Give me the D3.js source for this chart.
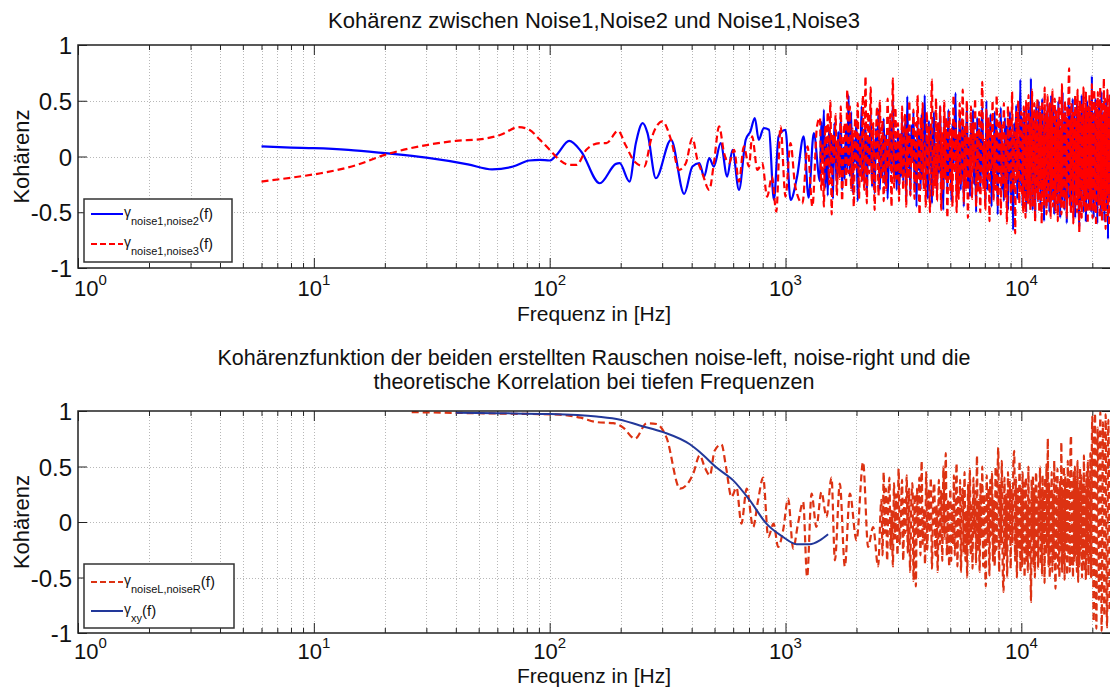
<!DOCTYPE html>
<html><head><meta charset="utf-8">
<script src="https://cdn.jsdelivr.net/npm/d3@7"></script>
<style>
body{margin:0;background:#fff}
svg{display:block}
text{font-family:"Liberation Sans",Arial,Helvetica,sans-serif;fill:#111}
</style>
</head><body>
<svg id="c" width="1110" height="687"></svg>
<script>
// ---------------- DATA ----------------
const xTickExponents = [0, 1, 2, 3, 4];
const yTicks = [-1, -0.5, 0, 0.5, 1];
const title1 = ["Kohärenz zwischen Noise1,Noise2 und Noise1,Noise3"];
const title2 = ["Kohärenzfunktion der beiden erstellten Rauschen noise-left, noise-right und die",
                "theoretische Korrelation bei tiefen Frequenzen"];
const xLabel = "Frequenz in [Hz]";
const yLabel = "Kohärenz";

// top: gamma noise1,noise2 (blue) - low frequency part
const n12LowF = [6,8,10,14,20,30,45,57,70,82,91,100,107,121,136,163,191,198,218,232,248,260,282,327,372,403,431,452,475,497,531,566,596,635,678,710,741,770,809,851,893,935,1000,1050,1120,1194,1253,1318];
const n12LowV = [0.09,0.08,0.075,0.06,0.03,-0.01,-0.07,-0.115,-0.09,-0.036,-0.03,-0.036,0.015,0.14,0.045,-0.24,-0.066,-0.06,-0.225,0.12,0.3,0.21,-0.195,0.15,-0.335,-0.09,-0.06,-0.18,-0.015,-0.09,0.12,-0.18,0.06,-0.3,0.15,0.225,0.345,0.15,0.255,0.24,-0.39,0.18,0.24,-0.39,-0.18,0.18,-0.37,0.21];
// dense parts (values over the bands listed in topBands)
const n12DenseA = [-0.22,0.31,-0.05,0.42,-0.28,0.12,-0.35,0.26,-0.1,0.18,-0.38,0.3,0.02,-0.25,0.22,-0.15,0.36,-0.3,0.08,-0.2,0.28,-0.12,0.55,-0.18,0.4,-0.32,0.15,-0.05,0.33,-0.4,0.2,-0.1,0.45,-0.22,0.05,0.3,-0.35,0.18,-0.08,0.38,-0.27,0.1,-0.33,0.25,-0.02,0.42,-0.3,0.12,-0.18,0.34,-0.25,0.2,-0.38,0.08,0.28,-0.15,0.5,-0.2,0.14,-0.3];
const n12DenseB = [0.25,-0.3,0.1,-0.18,0.35,-0.22,0.05,0.3,-0.4,0.54,-0.1,0.2,-0.35,0.28,-0.05,0.4,-0.25,0.15,-0.45,0.3,-0.12,0.22,-0.3,0.38,-0.2,0.1,0.55,-0.28,0.18,-0.38,0.32,-0.08,0.25,-0.42,0.12,0.4,-0.2,0.05,-0.33,0.3,-0.15,0.45,-0.25,0.1,-0.48,0.35,-0.05,0.22,-0.3,0.42,-0.18,0.08,-0.4,0.3,-0.1,0.25,0.57,-0.35,0.15,-0.22,0.4,-0.3,0.05,0.33,-0.45,0.2,-0.12,0.48,-0.28,0.1,-0.36,0.3,-0.05,0.42,-0.25,0.18,-0.5,0.35,-0.15,0.25,-0.32,0.12,0.45,-0.2,0.05,-0.42,0.5,-0.3,0.22,-0.1,0.38,-0.45,0.15,-0.25,0.4,-0.08,0.3,-0.52,0.2,-0.15,0.44,-0.3,0.1,-0.4,0.35,-0.2,0.28,-0.48,0.12,0.4,-0.35,0.2,-0.66,0.3,-0.12,0.46,-0.38,0.15,-0.25,0.69];
const n12DenseC = [-0.3,0.35,-0.45,0.2,-0.1,0.42,-0.38,0.15,-0.5,0.3,0.05,-0.35,0.45,-0.2,0.28,-0.42,0.7,-0.25,0.1,-0.48,0.38,-0.15,0.3,-0.55,0.22,0.45,-0.32,0.12,-0.4,0.5,-0.2,0.35,-0.46,0.18,-0.1,0.52,-0.35,0.25,-0.58,0.4,-0.05,0.32,-0.44,0.2,0.48,-0.3,0.1,-0.5,0.38,-0.22,0.55,-0.4,0.15,-0.28,0.45,-0.52,0.3,-0.12,0.42,-0.36,0.2,-0.45,0.5,-0.18,0.34,-0.55,0.25,0.05,-0.4,0.58,-0.3,0.2,-0.48,0.4,-0.1,0.35,-0.6,0.28,-0.22,0.5,-0.38,0.15,0.45,-0.5,0.22,-0.3,0.52,-0.42,0.1,0.4,-0.55,0.3,-0.2,0.48,-0.35,0.18,-0.45,-0.63,0.38,0.05,-0.4,0.55,-0.25,0.3,-0.5,0.42,-0.15,0.35,-0.58,0.2,0.5,-0.32,0.25,-0.46,0.45,-0.2,0.38,-0.5,0.72,-0.3,0.15,-0.55,0.4,-0.1,0.52,-0.42,0.28,-0.6,0.35,-0.25,0.48,-0.38,0.2,-0.52,0.58,-0.3,0.12,-0.45,0.4,-0.58,0.3,-0.2,0.5,-0.48,0.25,-0.74,0.42,-0.35,0.55,-0.4];

// top: gamma noise1,noise3 (red dashed)
const n13LowF = [6,8,10.7,15,20,30.5,40,51.5,62,74,82,91,100,110,121.5,130,143,163,174,195,210,230,252,269,301,327,354,378,403,423,444,475,497,523,549,576,605,635,666,700,722,760,797,836,876,914,953,1000,1050,1100,1180,1240,1300,1360];
const n13LowV = [-0.225,-0.19,-0.15,-0.08,0.015,0.105,0.14,0.156,0.195,0.264,0.24,0.15,0.06,-0.03,-0.075,-0.075,0.06,0.12,0.12,0.23,0.1,-0.05,-0.09,0.15,0.315,0.15,-0.12,-0.06,0.165,-0.03,-0.15,-0.3,-0.06,0.27,0.03,-0.06,0.06,-0.225,0.09,-0.09,0.18,-0.12,-0.06,-0.36,-0.18,-0.495,0.27,-0.36,0.12,-0.27,-0.42,0.09,-0.45,0.27];
const n13DenseA = [0.35,-0.3,0.12,-0.45,0.28,-0.1,0.4,-0.25,0.5,-0.52,0.2,-0.05,0.38,-0.35,0.15,-0.2,0.45,-0.4,0.1,0.3,-0.28,0.6,-0.15,0.45,-0.3,0.25,-0.45,0.35,-0.1,0.48,-0.38,0.2,-0.22,0.55,-0.3,0.72,-0.42,0.4,-0.15,0.62,-0.25,0.3,-0.48,0.15,0.45,-0.35,0.5,-0.2,0.32,-0.4,0.18,-0.3,0.52,-0.1,0.38,-0.45,0.7,-0.28,0.44,-0.2];
const n13DenseB = [0.3,-0.4,0.2,-0.15,0.45,-0.3,0.1,0.38,-0.45,0.25,-0.2,0.5,-0.35,0.15,-0.05,0.42,-0.38,0.3,-0.25,0.55,-0.1,-0.52,0.35,-0.2,0.48,-0.3,0.12,-0.45,0.4,-0.15,0.28,-0.5,0.2,0.69,-0.35,0.1,-0.28,0.52,-0.4,0.3,-0.12,0.45,-0.48,0.22,-0.3,0.5,-0.2,0.35,-0.55,0.15,0.4,-0.32,0.25,-0.45,0.55,-0.15,0.3,-0.5,0.2,-0.38,0.48,-0.25,0.1,0.6,-0.42,0.28,-0.3,0.5,-0.55,0.18,-0.2,0.45,-0.38,0.3,-0.1,0.52,-0.45,0.22,-0.32,0.4,-0.5,0.25,0.67,-0.3,0.15,-0.48,0.42,-0.2,0.35,-0.58,0.3,-0.12,0.5,-0.4,0.2,-0.3,0.55,-0.45,0.12,0.38,-0.52,0.28,-0.25,0.48,-0.38,0.2,-0.6,0.45,-0.15,0.35,-0.48,0.58,-0.3,0.22,-0.69,0.4,-0.2,0.5,-0.42,0.3];
const n13DenseC = [0.4,-0.35,0.2,-0.5,0.45,-0.15,0.3,-0.55,0.5,-0.25,0.15,-0.42,0.55,-0.3,0.35,-0.48,0.25,-0.1,0.6,-0.45,0.3,-0.2,0.48,-0.58,0.4,-0.32,0.15,0.52,-0.4,0.28,-0.5,0.45,-0.22,0.35,-0.6,0.5,-0.35,0.2,-0.45,0.62,-0.3,0.4,-0.52,0.25,0.55,-0.42,0.3,-0.15,0.48,-0.55,0.38,-0.28,0.6,-0.45,0.2,-0.35,0.52,-0.5,0.42,-0.2,0.3,-0.58,0.45,-0.3,0.55,-0.42,0.25,-0.52,0.65,-0.35,0.4,-0.48,0.2,0.5,-0.4,0.35,-0.55,0.45,-0.25,0.6,0.79,-0.45,0.3,-0.52,0.48,-0.3,0.4,-0.6,0.35,-0.2,0.55,-0.45,0.28,-0.5,0.6,-0.38,0.42,-0.68,0.5,-0.3,0.35,-0.55,0.48,-0.25,0.62,-0.45,0.3,-0.5,0.58,-0.35,0.4,-0.6,0.45,-0.3,0.55,-0.48,0.35,-0.42,0.65,-0.55,0.3,-0.38,0.6,-0.5,0.42,-0.62,0.5,-0.3,0.58,-0.45,0.35,-0.55,0.62,-0.4,0.48,-0.58,0.3,-0.5,0.7,-0.45,0.52,-0.65,0.4,-0.35,0.6,-0.55,0.45,-0.62,0.55,-0.4];

// bottom: gamma noiseL,noiseR (red dashed)
const lrLowF = [26,35,50,70,90,110,135,158,186,205,230,258,284,313,357,406,433,455,478,500,535,560,590,620,650,685,729,765,804,845,890,931,977,1026,1078,1130,1188,1235,1290,1352,1420,1492,1567,1620,1700,1785,1875,2000,2133,2240,2353,2470];
const lrLowV = [0.99,0.985,0.98,0.975,0.972,0.967,0.94,0.9,0.89,0.85,0.75,0.89,0.883,0.76,0.3,0.434,0.6,0.49,0.42,0.64,0.7,0.49,0.225,0.31,-0.015,0.3,-0.045,0.195,0.4,-0.135,-0.015,-0.225,-0.075,0.21,-0.24,-0.015,0.18,-0.495,0.255,-0.045,0.27,0.045,0.4,-0.345,0.345,-0.4,0.255,-0.165,0.54,-0.225,-0.045,-0.4];
const lrDenseA = [0.2,-0.3,0.45,-0.1,0.3,-0.35,0.15,0.4,-0.25,0.1,-0.4,0.35,-0.15,0.25,-0.3,0.48,-0.2,0.05,0.38,-0.35,0.2,-0.1,0.42,-0.28,0.3,-0.45,0.15,0.35,-0.53,0.25,-0.58,0.3,-0.15,0.4,-0.3,0.55,-0.2,0.12,-0.38,0.45,-0.25,0.3,-0.1,0.4,-0.42,0.2,0.35,-0.3,0.15,-0.45,0.38,-0.2,0.28,-0.35,0.5,-0.15,0.62,-0.3,0.2,-0.4];
const lrDenseB = [0.3,-0.35,0.15,-0.2,0.42,-0.3,0.1,0.53,-0.4,0.25,-0.15,0.38,-0.45,0.2,0.3,-0.28,0.45,-0.35,0.1,-0.5,0.35,-0.2,0.48,-0.3,0.15,-0.42,0.4,-0.1,0.28,-0.38,0.6,-0.25,0.2,-0.45,0.35,-0.15,0.5,-0.4,0.25,-0.3,-0.58,0.42,-0.2,0.3,-0.48,0.38,-0.12,0.45,-0.35,0.2,-0.4,0.5,-0.25,0.3,0.67,-0.45,0.35,-0.2,0.55,-0.4,-0.63,0.4,-0.3,0.25,-0.5,0.45,-0.15,0.38,-0.42,0.3,-0.2,0.52,0.64,-0.35,0.4,-0.5,0.3,-0.25,0.55,-0.45];
const lrDenseC = [0.3,-0.4,0.45,-0.2,0.35,-0.5,0.25,0.4,-0.35,0.15,-0.45,0.5,-0.3,0.2,-0.25,-0.72,0.38,-0.15,0.42,-0.4,0.3,-0.5,0.25,0.45,-0.3,0.2,-0.42,0.35,-0.1,0.5,-0.38,0.3,-0.48,0.42,-0.2,0.28,-0.55,0.4,-0.3,0.52,-0.25,0.75,-0.4,0.35,-0.5,0.3,-0.2,0.45,-0.45,0.25,-0.35,0.55,-0.3,-0.6,0.4,-0.25,0.48,-0.42,0.3,-0.5,0.38,-0.2,0.72,-0.45,0.3,-0.38,0.5,-0.52,0.42,-0.25,0.35,-0.48,0.55,-0.3,0.4,-0.45,0.6,0.78,-0.4,0.3,-0.5,0.45,-0.35,0.5,-0.3,0.38,-0.45,0.55,-0.54,0.3,-0.4,0.48,-0.25,0.42,-0.5,0.35,-0.38,0.6,-0.45,0.3,-0.52,0.45,-0.3,0.55,-0.48,0.4,-0.35,0.62,-0.5,0.5];
const lrDenseD = [0.95,-0.9,0.98,-0.96,0.85,-0.7,0.99,-0.98,0.9,-0.85,0.97,-0.95,0.92,-0.8];

// bottom: theoretical gamma_xy (blue)
const xyF = [40,60,100,158,199,241,303,393,433,510,600,706,830,977,1114,1268,1397,1516];
const xyV = [0.985,0.98,0.973,0.95,0.922,0.87,0.81,0.70,0.63,0.49,0.375,0.195,-0.015,-0.135,-0.2,-0.2,-0.165,-0.11];

// frequency bands (Hz) of the dense sampled parts
const topBands = [[1400,3000],[3000,10000],[10000,24000]];
const lrBands = [[2550,5000],[5000,10000],[10000,20000],[20000,24000]];

// ---------------- DRAWING ----------------
const svg = d3.select("#c");
const x = d3.scaleLog().domain([1, 24000]).range([78, 1111]);
const fontF = '"Liberation Sans",Arial,Helvetica,sans-serif';

function build(lowF, lowV, bands, dense) {
  const pts = lowF.map((f, i) => [f, lowV[i]]);
  bands.forEach((b, k) => {
    const vals = dense[k], n = vals.length;
    vals.forEach((v, i) => pts.push([b[0] * Math.pow(b[1] / b[0], i / n), v]));
  });
  return pts;
}

const minorTicks = [];
for (let e = 0; e <= 4; e++) for (let m = 2; m <= 9; m++) { const f = m * Math.pow(10, e); if (f < 24000) minorTicks.push(f); }
const majorTicks = xTickExponents.map(e => Math.pow(10, e));

function panel(cfg) {
  const { top, bottom, titles, titleY, titleSize, series, legendBox, legendItems, tickY, labelY, id } = cfg;
  const y = d3.scaleLinear().domain([-1, 1]).range([bottom, top]);
  const g = svg.append("g");
  const L = 78, R = 1111;

  // grid
  const grid = g.append("g").attr("stroke", "#b8b8b8").attr("stroke-width", 1).attr("stroke-dasharray", "1,2");
  majorTicks.concat(minorTicks).forEach(f => {
    if (f <= 1) return;
    grid.append("line").attr("x1", Math.round(x(f)) + 0.5).attr("x2", Math.round(x(f)) + 0.5).attr("y1", top).attr("y2", bottom);
  });
  [-0.5, 0, 0.5].forEach(v => grid.append("line").attr("x1", L).attr("x2", R).attr("y1", Math.round(y(v)) + 0.5).attr("y2", Math.round(y(v)) + 0.5));

  // axes ticks (inward)
  const axStyle = sel => { sel.select(".domain").remove(); sel.selectAll(".tick line").attr("stroke", "#222"); };
  g.append("g").attr("transform", `translate(0,${bottom})`).call(d3.axisBottom(x).tickValues(majorTicks).tickSize(-10).tickFormat(() => "")).call(axStyle);
  g.append("g").attr("transform", `translate(0,${bottom})`).call(d3.axisBottom(x).tickValues(minorTicks).tickSize(-5).tickFormat(() => "")).call(axStyle);
  g.append("g").attr("transform", `translate(0,${top})`).call(d3.axisTop(x).tickValues(majorTicks).tickSize(-10).tickFormat(() => "")).call(axStyle);
  g.append("g").attr("transform", `translate(0,${top})`).call(d3.axisTop(x).tickValues(minorTicks).tickSize(-5).tickFormat(() => "")).call(axStyle);
  const yl = g.append("g").attr("transform", `translate(${L},0)`)
    .call(d3.axisLeft(y).tickValues(yTicks).tickSize(-9).tickPadding(6).tickFormat(d => String(d))).call(axStyle);
  yl.selectAll(".tick text").attr("font-family", fontF).attr("font-size", 24).attr("fill", "#111").attr("dy", "0.36em");
  g.append("g").attr("transform", `translate(${R},0)`).call(d3.axisRight(y).tickValues(yTicks).tickSize(-9).tickFormat(() => "")).call(axStyle);

  // x tick labels 10^k (the first one starts right of the "-1" label)
  xTickExponents.forEach(e => {
    const first = e === 0;
    const t = g.append("text").attr("x", first ? L - 4 : x(Math.pow(10, e))).attr("y", tickY)
      .attr("text-anchor", first ? "start" : "middle").attr("font-size", 22);
    t.append("tspan").text("10");
    t.append("tspan").attr("font-size", 15).attr("dy", -11).text(String(e));
  });

  // data
  const clipId = "clip" + id;
  svg.append("clipPath").attr("id", clipId).append("rect").attr("x", L).attr("y", top).attr("width", R - L).attr("height", bottom - top);
  const dg = g.append("g").attr("clip-path", `url(#${clipId})`);
  const line = d3.line().x(d => x(d[0])).y(d => y(d[1])).curve(d3.curveMonotoneX);
  series.forEach(s => {
    dg.append("path").attr("d", line(s.data)).attr("fill", "none").attr("stroke", s.color)
      .attr("stroke-width", s.width).attr("stroke-linejoin", "round").attr("stroke-dasharray", s.dash || null);
  });

  // box
  g.append("rect").attr("x", L).attr("y", top).attr("width", R - L).attr("height", bottom - top)
    .attr("fill", "none").attr("stroke", "#222").attr("stroke-width", 1.5);

  // titles and labels
  titles.forEach((s, i) => g.append("text").attr("x", 594).attr("y", titleY + i * 24).attr("text-anchor", "middle").attr("font-size", titleSize).text(s));
  g.append("text").attr("x", 594).attr("y", labelY).attr("text-anchor", "middle").attr("font-size", 21).text(xLabel);
  g.append("text").attr("transform", `translate(29,${(top + bottom) / 2}) rotate(-90)`).attr("text-anchor", "middle").attr("font-size", 22).text(yLabel);

  // legend
  const lg = g.append("g");
  lg.append("rect").attr("x", legendBox[0]).attr("y", legendBox[1]).attr("width", legendBox[2]).attr("height", legendBox[3])
    .attr("fill", "#fff").attr("stroke", "#333").attr("stroke-width", 1.5);
  legendItems.forEach(it => {
    lg.append("line").attr("x1", 91).attr("x2", 123).attr("y1", it.y).attr("y2", it.y).attr("stroke", it.color)
      .attr("stroke-width", 2).attr("stroke-dasharray", it.dash || null);
    const t = lg.append("text").attr("x", 124).attr("y", it.y + 3).attr("fill", "#222");
    t.append("tspan").attr("font-size", 14).text("γ");
    t.append("tspan").attr("font-size", 11).attr("dy", 8).text(it.sub);
    t.append("tspan").attr("font-size", 15).attr("dy", -6).text("(f)");
  });
}

panel({
  id: 1, top: 45, bottom: 268, titles: title1, titleY: 28, titleSize: 22, tickY: 296, labelY: 321,
  series: [
    { data: build(n12LowF, n12LowV, topBands, [n12DenseA, n12DenseB, n12DenseC]), color: "#0000ff", width: 2.2 },
    { data: build(n13LowF, n13LowV, topBands, [n13DenseA, n13DenseB, n13DenseC]), color: "#ff0000", width: 2.2, dash: "7,4" }
  ],
  legendBox: [84, 199, 148, 63],
  legendItems: [
    { y: 214, color: "#0000ff", sub: "noise1,noise2" },
    { y: 244, color: "#ff0000", sub: "noise1,noise3", dash: "6,3" }
  ]
});

panel({
  id: 2, top: 411, bottom: 633, titles: title2, titleY: 365, titleSize: 21.5, tickY: 658.5, labelY: 682.5,
  series: [
    { data: build(lrLowF, lrLowV, lrBands, [lrDenseA, lrDenseB, lrDenseC, lrDenseD]), color: "#dc3212", width: 2.2, dash: "7,4" },
    { data: xyF.map((f, i) => [f, xyV[i]]), color: "#22389a", width: 2 }
  ],
  legendBox: [84, 564, 150, 64],
  legendItems: [
    { y: 582, color: "#dc3212", sub: "noiseL,noiseR", dash: "6,3" },
    { y: 611, color: "#22389a", sub: "xy" }
  ]
});
</script>
</body></html>
